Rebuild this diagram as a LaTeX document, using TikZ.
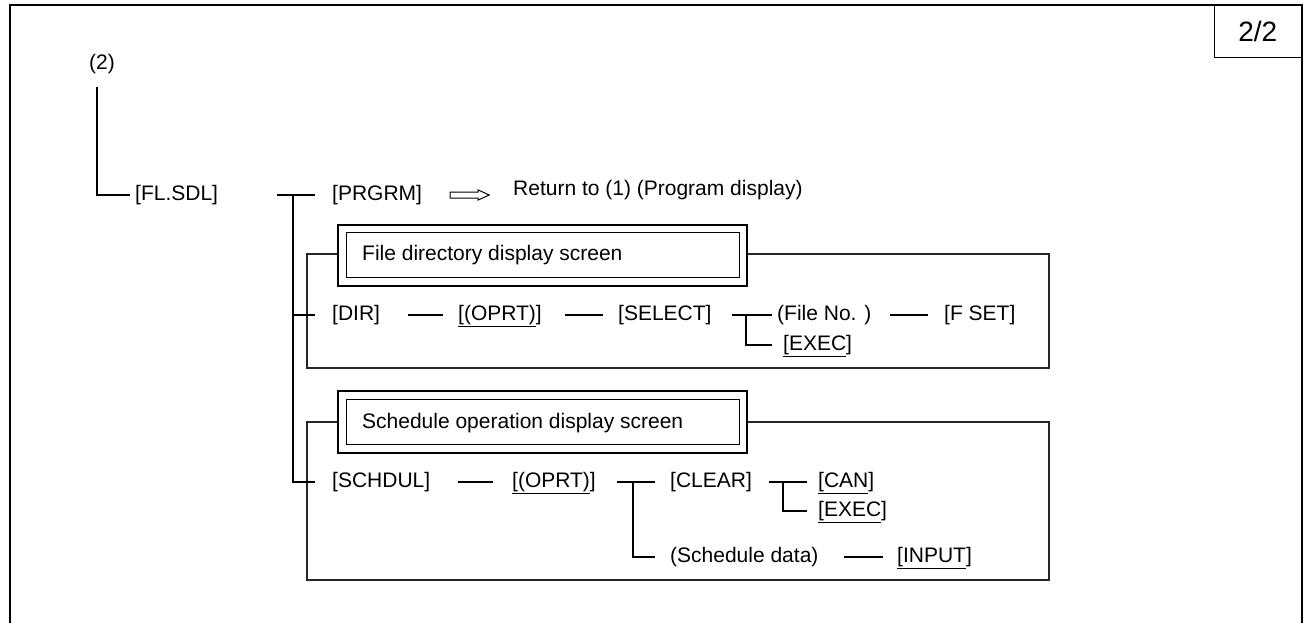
\documentclass[tikz,border=0pt]{standalone}
\usepackage{fontspec}
\setmainfont{Liberation Sans}
\begin{document}
\begin{tikzpicture}[x=1pt,y=-1pt,
  lbl/.style={anchor=west, inner sep=0pt, text height=15pt, text depth=4.5pt, font=\fontsize{21}{25}\selectfont},
  conn/.style={line width=2pt},
  link/.style={line width=1.7pt},
  panel/.style={line width=1.3pt, draw=black!85},
  ttlin/.style={draw, line width=1pt, anchor=north west, inner sep=0pt, minimum width=393pt, minimum height=45pt},
  ttlout/.style={line width=2pt}]
\useasboundingbox (0,0) rectangle (1307,623);

% outer frame and page box
\draw[line width=2.5pt] (10,623) -- (10,5) -- (1302,5) -- (1302,623);
\node[draw, line width=1.5pt, anchor=north east, inner sep=0pt, minimum width=87pt, minimum height=52pt,
      font=\fontsize{28}{32}\selectfont] (page) at (1302,5) {2/2};

% top level
\node[lbl] (two) at (89,64) {(2)};
\node[lbl] (flsdl) at (135,195) {[FL.SDL]};
\node[lbl] (prgrm) at (332,195) {[PRGRM]};
\node[lbl] (ret) at (513,190) {Return to (1) (Program display)};
\coordinate (c2) at (97,195);
\draw[conn] ([yshift=-13pt]two.south -| c2) -- (c2) -- ([xshift=-5]flsdl.west);

% hollow arrow
\draw[line width=1pt, shift={(prgrm.east)}]
  (28,-3) -- (56,-3) -- (56,-5) -- (67,0) -- (56,5) -- (56,3) -- (28,3) -- cycle;

% panel 1
\draw[panel] (338,254) -- (307,254) -- (307,368) -- (1049,368) -- (1049,254) -- (746,254);
\node[ttlin] (t1) at (346,232) {};
\draw[ttlout] ([shift={(-8,-7)}]t1.north west) rectangle ([shift={(7,8)}]t1.south east);
\node[lbl] (t1txt) at (362,255) {File directory display screen};

% panel 2
\draw[panel] (338,422) -- (307,422) -- (307,580) -- (1049,580) -- (1049,422) -- (746,422);
\node[ttlin] (t2) at (346,399) {};
\draw[ttlout] ([shift={(-8,-8)}]t2.north west) rectangle ([shift={(7,8)}]t2.south east);
\node[lbl] (t2txt) at (362,423) {Schedule operation display screen};

% DIR row
\node[lbl] (dir) at (332,315) {[DIR]};
\node[lbl] (oprta) at (458,315) {\underline{[(OPRT)}]};
\node[lbl] (select) at (618,315) {[SELECT]};
\node[lbl] (fileno) at (777,315) {(File No. )};
\node[lbl] (execa) at (783,345) {\underline{[EXEC}]};
\node[lbl] (fset) at (944,315) {[F SET]};

% SCHDUL row
\node[lbl] (schdul) at (332,482) {[SCHDUL]};
\node[lbl] (oprtb) at (512,482) {\underline{[(OPRT)}]};
\node[lbl] (clear) at (670,482) {[CLEAR]};
\node[lbl] (can) at (818,482) {\underline{[CAN}]};
\node[lbl] (execb) at (818,511) {\underline{[EXEC}]};
\node[lbl] (sdata) at (670,557) {(Schedule data)};
\node[lbl] (input) at (897,557) {\underline{[INPUT}]};

% trunk
\coordinate (tk) at (293,195);
\draw[conn] ([xshift=-55]prgrm.west) -- ([xshift=-17]prgrm.west);
\draw[conn] (tk) -- (tk |- schdul.west) -- ([xshift=-17]schdul.west);
\draw[conn] (tk |- dir.west) -- ([xshift=-17]dir.west);

% DIR row connectors
\draw[link] ([xshift=28]dir.east) -- ([xshift=-15]oprta.west);
\draw[link] ([xshift=23]oprta.east) -- ([xshift=-15]select.west);
\coordinate (ba) at (746,315);
\draw[conn] ([xshift=20]select.east) -- ([xshift=-5]fileno.west);
\draw[conn] (ba) -- (ba |- execa.west) -- ([xshift=-11]execa.west);
\draw[link] ([xshift=-54]fset.west) -- ([xshift=-16]fset.west);

% SCHDUL row connectors
\draw[link] ([xshift=28]schdul.east) -- ([xshift=-19]oprtb.west);
\coordinate (bb) at (633,482);
\draw[conn] ([xshift=21]oprtb.east) -- ([xshift=-15]clear.west);
\draw[conn] (bb) -- (bb |- sdata.west) -- ([xshift=-15]sdata.west);
\coordinate (bc) at (783,482);
\draw[conn] ([xshift=17]clear.east) -- ([xshift=-11]can.west);
\draw[conn] (bc) -- (bc |- execb.west) -- ([xshift=-11]execb.west);
\draw[link] ([xshift=-53]input.west) -- ([xshift=-14]input.west);
\end{tikzpicture}
\end{document}
